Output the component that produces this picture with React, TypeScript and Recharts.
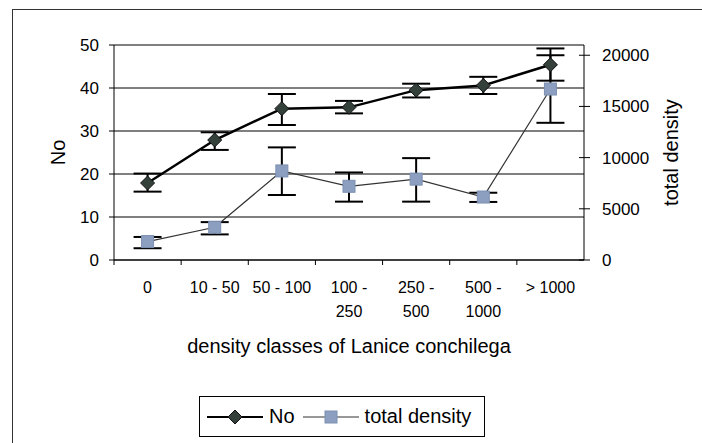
import React from 'react';
import {
  ComposedChart, Line, XAxis, YAxis, CartesianGrid, ErrorBar, Label
} from 'recharts';

const categories = ['0', '10 - 50', '50 - 100', '100 -\n250', '250 -\n500', '500 -\n1000', '> 1000'];
const noValues = [17.9, 27.9, 35.2, 35.5, 39.5, 40.6, 45.4];
const noErrLow = [2.0, 2.3, 3.8, 1.4, 1.7, 2.0, 3.7];
const noErrHigh = [2.2, 1.8, 3.4, 1.5, 1.5, 2.0, 3.8];
const densityValues = [1800, 3200, 8700, 7200, 7900, 6150, 16700];
const densityErrLow = [650, 700, 2350, 1500, 2200, 480, 3300];
const densityErrHigh = [450, 500, 2300, 1350, 2050, 420, 3300];
const leftTicks = [0, 10, 20, 30, 40, 50];
const rightTicks = [0, 5000, 10000, 15000, 20000];

const data = categories.map((cat, i) => ({
  cat,
  no: noValues[i],
  noErr: [noErrLow[i], noErrHigh[i]],
  density: densityValues[i],
  densityErr: [densityErrLow[i], densityErrHigh[i]],
}));

const W = 702;
const H = 443;
const PLOT_LEFT = 114;
const PLOT_RIGHT = 584;
const PLOT_TOP = 45;
const PLOT_BOTTOM = 260;
const BAND = (PLOT_RIGHT - PLOT_LEFT) / categories.length;
const FONT = '"Liberation Sans", Arial, sans-serif';
const SQUARE_FILL = '#8c9fc0';

const Diamond = (p: any) => {
  if (p.cx == null || p.cy == null) return null;
  const r = 7;
  return (
    <path
      key={`d-${p.index}`}
      d={`M${p.cx},${p.cy - r}L${p.cx + r},${p.cy}L${p.cx},${p.cy + r}L${p.cx - r},${p.cy}Z`}
      fill="#34403a"
      stroke="#111"
      strokeWidth={1}
    />
  );
};

const Square = (p: any) => {
  if (p.cx == null || p.cy == null) return null;
  const s = 6;
  return (
    <rect key={`s-${p.index}`} x={p.cx - s} y={p.cy - s} width={s * 2} height={s * 2}
      fill={SQUARE_FILL} stroke="#7d90b2" strokeWidth={1} />
  );
};

const CatTick = (p: any) => {
  const { x, payload } = p;
  const lines = String(payload.value).split('\n');
  const bx = x - BAND / 2;
  return (
    <g>
      <line x1={bx} x2={bx} y1={PLOT_BOTTOM} y2={PLOT_BOTTOM + 5} stroke="#000" strokeWidth={1} />
      <text x={x} y={PLOT_BOTTOM + 22} textAnchor="middle" fontSize={16} fill="#000" fontFamily={FONT}>
        {lines.map((l, i) => (
          <tspan key={i} x={x} dy={i === 0 ? '0.71em' : 24}>{l}</tspan>
        ))}
      </text>
    </g>
  );
};

const RightTick = (p: any) => {
  const { y, payload } = p;
  return (
    <g>
      <line x1={PLOT_RIGHT - 5} x2={PLOT_RIGHT + 6} y1={y} y2={y} stroke="#000" strokeWidth={1} />
      <text x={PLOT_RIGHT + 18} y={y} dy="0.35em" textAnchor="start" fontSize={17} fill="#000" fontFamily={FONT}>
        {payload.value}
      </text>
    </g>
  );
};

const vLabel = (text: string, cx: number) => (props: any) => {
  const vb = props.viewBox;
  const cy = vb.y + vb.height / 2;
  return (
    <text x={cx} y={cy} transform={`rotate(-90, ${cx}, ${cy})`} textAnchor="middle" dy="0.35em"
      fontSize={20} fill="#000" fontFamily={FONT}>
      {text}
    </text>
  );
};

const xTitle = (props: any) => {
  const vb = props.viewBox;
  return (
    <text x={vb.x + vb.width / 2} y={346} textAnchor="middle" dy="0.35em" fontSize={20} fill="#000" fontFamily={FONT}>
      density classes of Lanice conchilega
    </text>
  );
};

export default function App() {
  return (
    <div style={{ position: 'fixed', left: 0, top: 0, width: W, height: H, overflow: 'hidden', background: '#fff', fontFamily: FONT }}>
      <div style={{ position: 'absolute', left: 12, top: 9, width: 1000, height: 1000, borderLeft: '1.5px solid #333', borderTop: '1.5px solid #333' }} />
      <div style={{ position: 'absolute', left: 0, top: 0 }}>
        <ComposedChart width={W} height={H} data={data}
          margin={{ top: PLOT_TOP, right: 0, left: 0, bottom: 0 }}>
          <CartesianGrid yAxisId="left" vertical={false} stroke="#000" strokeWidth={1} />
          <XAxis dataKey="cat" height={H - PLOT_BOTTOM} axisLine={{ stroke: '#000' }} tickLine={false}
            tick={<CatTick />} interval={0} padding={{ left: BAND / 2, right: BAND / 2 }}>
            <Label content={xTitle} />
          </XAxis>
          <YAxis yAxisId="left" width={PLOT_LEFT} domain={[0, 50]} ticks={leftTicks}
            axisLine={{ stroke: '#000' }} tickLine={{ stroke: '#000' }} tickSize={5} tickMargin={10}
            tick={{ fontSize: 17, fill: '#000', fontFamily: FONT }}>
            <Label content={vLabel('No', 58)} />
          </YAxis>
          <YAxis yAxisId="right" orientation="right" width={W - PLOT_RIGHT} domain={[0, 21000]} ticks={rightTicks}
            axisLine={{ stroke: '#000' }} tickLine={false} tick={<RightTick />}>
            <Label content={vLabel('total density', 671)} />
          </YAxis>
          <Line yAxisId="right" dataKey="density" stroke="#333" strokeWidth={1.2} dot={Square}
            isAnimationActive={false} activeDot={false}>
            <ErrorBar dataKey="densityErr" width={14} strokeWidth={2} stroke="#000" direction="y" />
          </Line>
          <Line yAxisId="left" dataKey="no" stroke="#000" strokeWidth={2.5} dot={Diamond}
            isAnimationActive={false} activeDot={false}>
            <ErrorBar dataKey="noErr" width={14} strokeWidth={2} stroke="#000" direction="y" />
          </Line>
        </ComposedChart>
      </div>
      <div style={{ position: 'absolute', left: 199, top: 396, width: 286, height: 41, border: '1px solid #000', boxSizing: 'border-box', display: 'flex', alignItems: 'center', fontSize: 20, color: '#000' }}>
        <svg width={62} height={20} style={{ marginLeft: 7 }}>
          <line x1={0} x2={56} y1={10} y2={10} stroke="#000" strokeWidth={2} />
          <path d="M28,3L35,10L28,17L21,10Z" fill="#34403a" stroke="#111" />
        </svg>
        <span>No</span>
        <svg width={64} height={20} style={{ marginLeft: 6 }}>
          <line x1={2} x2={58} y1={10} y2={10} stroke="#333" strokeWidth={1.2} />
          <rect x={24} y={4} width={12} height={12} fill={SQUARE_FILL} stroke="#7d90b2" />
        </svg>
        <span>total density</span>
      </div>
    </div>
  );
}
